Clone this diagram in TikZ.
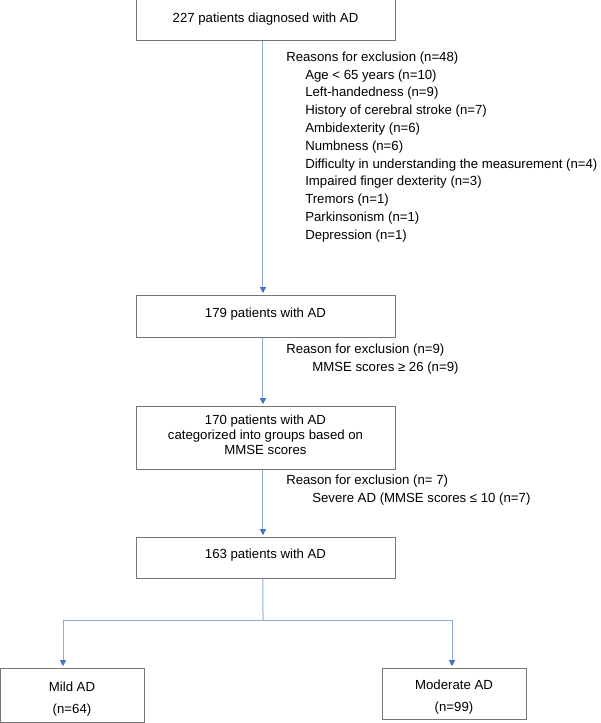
\documentclass[tikz,border=0pt]{standalone}
\usepackage{fontspec}
\setmainfont{Liberation Sans}
\usepackage{xcolor}
\usepackage{tikz}
\usetikzlibrary{arrows.meta}
\usetikzlibrary{positioning}
\definecolor{linkblue}{RGB}{143,170,220}
\definecolor{tipblue}{RGB}{68,114,196}
\definecolor{boxgray}{RGB}{118,118,118}

\begin{document}
\begin{tikzpicture}[
  x=0.75pt,y=-0.75pt,
  box/.style={draw=boxgray,line width=0.75pt,minimum width=194.25pt,align=center,inner sep=0pt,text depth=4.6pt,font=\fontsize{9.9}{13.35}\selectfont},
  group/.style={draw=boxgray,line width=0.75pt,minimum width=108pt,align=center,inner sep=0pt,text height=29.4pt,font=\fontsize{9.9}{16.5}\selectfont},
  ptr/.style={-{Triangle[width=4.5pt,length=4.5pt,color=tipblue]},draw=linkblue,line width=0.75pt,shorten >=1pt},
  note/.style={anchor=north west,align=left,inner sep=0pt,font=\fontsize{9.9}{13.5}\selectfont}
]
\useasboundingbox (0,0) rectangle (600,723);
% Main column
\node[box,minimum height=30.75pt] (b1) at (265.5,20.5) {227 patients diagnosed with AD};
\node[box,minimum height=31.5pt] (b2) at (265.5,316) {179 patients with AD};
\node[box,minimum height=47.25pt,font=\fontsize{9.9}{11.3}\selectfont] (b3) at (265.5,437.5) {170 patients with AD\\categorized into groups based on\\MMSE scores};
\node[box,minimum height=30.75pt,text depth=5.5pt] (b4) at (265.5,557.5) {163 patients with AD};
% Groups
\node[group,minimum height=40.5pt] (mild) at (72,695) {Mild AD\\(n=64)};
\node[group,minimum height=38.25pt] (moderate) at (454,693.5) {Moderate AD\\(n=99)};
% Exclusions
\node[note,font=\fontsize{9.9}{13.35}\selectfont] (r1) at (286,51.5) {Reasons for exclusion (n=48)\\
  \hspace*{14.25pt}Age < 65 years (n=10)\\
  \hspace*{14.25pt}Left-handedness (n=9)\\
  \hspace*{14.25pt}History of cerebral stroke (n=7)\\
  \hspace*{14.25pt}Ambidexterity (n=6)\\
  \hspace*{14.25pt}Numbness (n=6)\\
  \hspace*{14.25pt}Difficulty in understanding the measurement (n=4)\\
  \hspace*{14.25pt}Impaired finger dexterity (n=3)\\
  \hspace*{14.25pt}Tremors (n=1)\\
  \hspace*{14.25pt}Parkinsonism (n=1)\\
  \hspace*{14.25pt}Depression (n=1)};
\node[note] (r2) at (286,343.6) {Reason for exclusion (n=9)\\
  \hspace*{19.5pt}MMSE scores ≥ 26 (n=9)};
\node[note] (r3) at (286,474.6) {Reason for exclusion (n= 7)\\
  \hspace*{19.5pt}Severe AD (MMSE scores ≤ 10 (n=7)};
% Connectors
\draw[ptr] ([xshift=-1.9pt]b1.south) -- ([xshift=-1.9pt]b2.north);
\draw[ptr] ([xshift=-1.9pt]b2.south) -- ([xshift=-1.9pt]b3.north);
\draw[ptr] ([xshift=-1.9pt]b3.south) -- ([xshift=-1.9pt]b4.north);
\coordinate (split) at (263,620.5);
\draw[draw=linkblue,line width=0.75pt] ([xshift=-1.9pt]b4.south) -- (split);
\draw[ptr] (split) -| ([xshift=-6.75pt]mild.north);
\draw[ptr] (split) -| ([xshift=-1.5pt]moderate.north);
\end{tikzpicture}
\end{document}
